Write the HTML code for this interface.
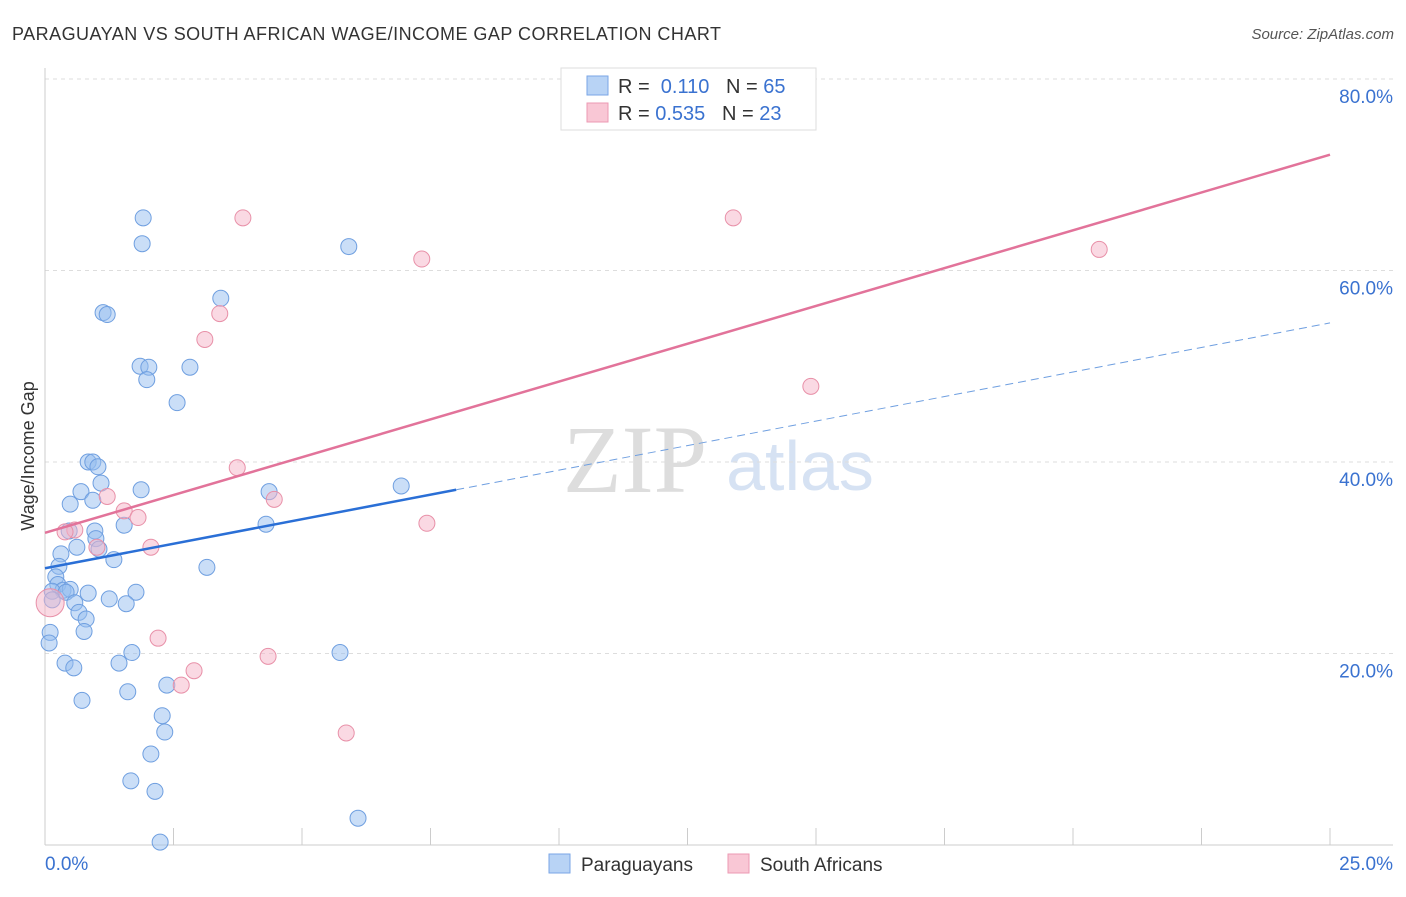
<!DOCTYPE html>
<html><head><meta charset="utf-8"><style>
body{margin:0;background:#fff;font-family:"Liberation Sans",sans-serif;}
</style></head><body>
<svg id="c" width="1406" height="892" xmlns="http://www.w3.org/2000/svg" font-family="Liberation Sans, sans-serif">
<text x="12" y="40" font-size="18" fill="#333" textLength="709" lengthAdjust="spacing">PARAGUAYAN VS SOUTH AFRICAN WAGE/INCOME GAP CORRELATION CHART</text>
<text x="1394" y="39" font-size="15" fill="#555" font-style="italic" text-anchor="end">Source: ZipAtlas.com</text>
<text x="635" y="492" font-size="96" fill="#ddd" font-family="Liberation Serif, serif" text-anchor="middle">ZIP</text>
<text x="800" y="490" font-size="70" fill="#d6e2f3" text-anchor="middle">atlas</text>
<g id="grid"></g><g id="pts"></g><g id="lines"></g>
<text x="34" y="456" font-size="18" fill="#333" transform="rotate(-90 34 456)" text-anchor="middle">Wage/Income Gap</text>
<g>
<rect x="561" y="68" width="255" height="62" fill="#fff" stroke="#ddd"/>
<rect x="587" y="76" width="21" height="19" fill="#b8d3f5" stroke="#7aa6e6"/>
<rect x="587" y="103" width="21" height="19" fill="#f9c7d5" stroke="#ec9ab3"/>
<text x="618" y="93" font-size="20" fill="#333">R = <tspan fill="#3a72d0">&#160;0.110</tspan>&#160;&#160;&#160;N = <tspan fill="#3a72d0">65</tspan></text>
<text x="618" y="120" font-size="20" fill="#333">R = <tspan fill="#3a72d0">0.535</tspan>&#160;&#160;&#160;N = <tspan fill="#3a72d0">23</tspan></text>
</g>
<g>
<rect x="549" y="854" width="21" height="19" fill="#b8d3f5" stroke="#7aa6e6"/>
<text x="581" y="871" font-size="19" fill="#333">Paraguayans</text>
<rect x="728" y="854" width="21" height="19" fill="#f9c7d5" stroke="#ec9ab3"/>
<text x="760" y="871" font-size="19" fill="#333">South Africans</text>
</g>
</svg>
<script>
const yTicks=[20,40,60,80];
const yTickLabels=["20.0%","40.0%","60.0%","80.0%"];
const xTicks=[0,2.5,5,7.5,10,12.5,15,17.5,20,22.5,25];
const blueX=[1.91,1.89,5.91,3.42,1.13,1.21,1.85,2.02,2.82,1.98,2.57,0.84,0.93,1.03,1.09,1.87,0.70,0.93,0.49,4.36,6.93,1.54,4.30,0.97,0.47,0.99,0.62,1.05,0.31,1.34,0.27,3.15,0.21,0.25,0.35,0.49,0.14,0.41,0.84,0.14,1.77,1.25,1.58,0.58,0.66,0.80,0.76,0.10,0.08,1.69,5.74,0.39,1.44,0.56,2.37,1.61,0.72,2.28,2.33,2.06,1.67,2.14,6.09,2.24];
const blueY=[65.5,62.8,62.5,57.1,55.6,55.4,50.0,49.9,49.9,48.6,46.2,40.0,40.0,39.5,37.8,37.1,36.9,36.0,35.6,36.9,37.5,33.4,33.5,32.8,32.8,32.0,31.1,30.9,30.4,29.8,29.1,29.0,28.0,27.2,26.6,26.7,26.5,26.4,26.3,25.6,26.4,25.7,25.2,25.3,24.3,23.6,22.3,22.2,21.1,20.1,20.1,19.0,19.0,18.5,16.7,16.0,15.1,13.5,11.8,9.5,6.7,5.6,2.8,0.3];
const pinkX=[3.85,13.39,7.33,20.51,3.40,3.11,14.90,3.74,1.21,4.46,7.43,1.54,1.81,0.58,0.39,1.01,2.06,2.20,2.90,2.65,4.34,5.86,0.10];
const pinkY=[65.5,65.5,61.2,62.2,55.5,52.8,47.9,39.4,36.4,36.1,33.6,34.9,34.2,32.9,32.7,31.1,31.1,21.6,18.2,16.7,19.7,11.7,25.3];
const blueFit=[28.9,1.025], blueSolidEnd=8.0;
const pinkFit=[32.6,1.58];
const sx=v=>45+v*51.4, sy=v=>845-v*9.575;
const NS="http://www.w3.org/2000/svg";
function mk(t,a,p){const e=document.createElementNS(NS,t);for(const k in a)e.setAttribute(k,a[k]);p.appendChild(e);return e;}
const grid=document.getElementById('grid');
yTicks.forEach((t,i)=>{
 const l=mk('line',{x1:45,x2:1393,y1:sy(t),y2:sy(t),stroke:'#ddd','stroke-dasharray':'4,4'},grid);
 
 
 const tx=mk('text',{x:1393,y:sy(t)+24,'font-size':19,fill:'#3a72d0','text-anchor':'end'},grid);
 tx.textContent=yTickLabels[i];
 
 
});
mk('line',{x1:45,x2:45,y1:68,y2:845,stroke:'#ccc'},grid);
mk('line',{x1:45,x2:1393,y1:845,y2:845,stroke:'#ccc'},grid);
xTicks.forEach(t=>{const l=mk('line',{x1:sx(t),x2:sx(t),y1:828,y2:845,stroke:'#ccc'},grid);
 
 });
const x0=mk('text',{x:45,y:870,'font-size':19,fill:'#3a72d0'},grid);x0.textContent='0.0%';


const x1=mk('text',{x:1393,y:870,'font-size':19,fill:'#3a72d0','text-anchor':'end'},grid);x1.textContent='25.0%';


const pts=document.getElementById('pts');
blueX.forEach((x,i)=>{const c=mk('circle',{cx:sx(x),cy:sy(blueY[i]),r:8,fill:'rgba(150,190,240,0.5)',stroke:'#6f9fe0','stroke-width':1},pts);
 
 });
pinkX.forEach((x,i)=>{const c=mk('circle',{cx:sx(x),cy:sy(pinkY[i]),r:i==pinkX.length-1?14:8,fill:'rgba(246,180,200,0.5)',stroke:'#e890a8','stroke-width':1},pts);
 
 });
const ln=document.getElementById('lines');
const f=(fit,x)=>fit[0]+fit[1]*x;
let a=mk('line',{x1:sx(0),y1:sy(f(blueFit,0)),x2:sx(blueSolidEnd),y2:sy(f(blueFit,blueSolidEnd)),stroke:'#2a6fd6','stroke-width':2.5},ln);


a=mk('line',{x1:sx(blueSolidEnd),y1:sy(f(blueFit,blueSolidEnd)),x2:sx(25),y2:sy(f(blueFit,25)),stroke:'#6f9fe0','stroke-width':1,'stroke-dasharray':'8,5'},ln);


a=mk('line',{x1:sx(0),y1:sy(f(pinkFit,0)),x2:sx(25),y2:sy(f(pinkFit,25)),stroke:'#e2739a','stroke-width':2.5},ln);


</script>
</body></html>
